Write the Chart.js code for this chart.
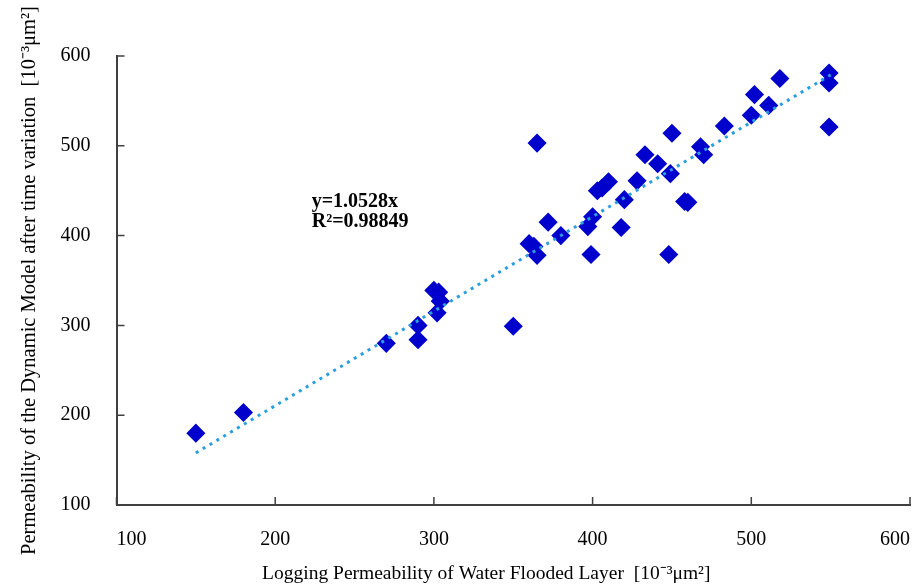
<!DOCTYPE html>
<html>
<head>
<meta charset="utf-8">
<script src="https://cdn.jsdelivr.net/npm/chart.js@4.4.1/dist/chart.umd.min.js"></script>
<style>
    body { margin: 0; background: #ffffff; }
    canvas { display: block; }
</style>
</head>
<body>
<canvas id="permChart" width="921" height="586"></canvas>
<script>
// measured points (logging permeability, model permeability)
const loggingPerm = [150, 180, 270, 290, 290, 300, 303, 304, 302, 350,
    360, 363, 365, 365, 372, 380, 397, 400, 399, 403,
    406, 410, 418, 420, 428, 433, 441, 448, 449, 450,
    458, 460, 468, 470, 483, 500, 502, 511, 518, 549,
    549, 549];
const modelPerm = [180, 203, 280, 300, 284, 339, 337, 327, 314, 299,
    391, 388, 378, 503, 415, 400, 410, 421, 379, 450,
    453, 460, 409, 440, 461, 490, 480, 379, 469, 514,
    438, 437, 499, 490, 522, 534, 557, 545, 575, 581,
    570, 521];

// trend line ends
const trendX = [150, 550];
const trendY = [158, 579];

const xTicks = [100, 200, 300, 400, 500, 600];
const yTicks = [100, 200, 300, 400, 500, 600];

const fitLines = ['y=1.0528x', 'R\u00B2=0.98849'];
const xTitle = 'Logging Permeability of Water Flooded Layer  [10\u207B\u00B3\u03BCm\u00B2]';
const yTitle = 'Permeability of the Dynamic Model after time variation  [10\u207B\u00B3\u03BCm\u00B2]';

const serif = '"Liberation Serif", "Times New Roman", serif';
const axisColor = '#404040';

const points = loggingPerm.map((x, i) => ({x: x, y: modelPerm[i]}));
const trend = trendX.map((x, i) => ({x: x, y: trendY[i]}));

// tick marks pointing into the plot, plus fit text and x title
const extras = {
    id: 'extras',
    beforeDatasetsDraw(chart) {
        const ctx = chart.ctx;
        const xs = chart.scales.x;
        const ys = chart.scales.y;
        const area = chart.chartArea;
        ctx.save();
        ctx.strokeStyle = axisColor;
        ctx.lineWidth = 1.5;
        ctx.beginPath();
        xTicks.forEach(v => {
            const px = xs.getPixelForValue(v);
            ctx.moveTo(px, area.bottom);
            ctx.lineTo(px, area.bottom - 8);
        });
        yTicks.forEach(v => {
            const py = ys.getPixelForValue(v);
            ctx.moveTo(area.left, py);
            ctx.lineTo(area.left + 8, py);
        });
        ctx.stroke();
        ctx.restore();
    },
    afterDraw(chart) {
        const ctx = chart.ctx;
        const xs = chart.scales.x;
        const ys = chart.scales.y;
        ctx.save();
        ctx.fillStyle = '#000000';
        ctx.textAlign = 'left';
        ctx.textBaseline = 'alphabetic';
        ctx.font = 'bold 20px ' + serif;
        ctx.fillText(fitLines[0], xs.getPixelForValue(223), ys.getPixelForValue(432));
        ctx.fillText(fitLines[1], xs.getPixelForValue(223), ys.getPixelForValue(410));

        ctx.font = '19.5px ' + serif;
        ctx.textAlign = 'center';
        ctx.textBaseline = 'middle';
        ctx.fillText(xTitle, xs.getPixelForValue(333), xs.bottom - 12);
        ctx.restore();
    }
};

const chart = new Chart(document.getElementById('permChart').getContext('2d'), {
    type: 'scatter',
    data: {
        datasets: [{
            type: 'line',
            data: trend,
            borderColor: '#2a9fe0',
            borderWidth: 3,
            borderDash: [3, 5],
            pointRadius: 0,
            fill: false
        }, {
            data: points,
            pointStyle: 'rectRot',
            pointRadius: 8.5,
            pointBorderWidth: 1.5,
            pointBackgroundColor: '#0000cd',
            pointBorderColor: '#0000cd'
        }]
    },
    plugins: [extras],
    options: {
        responsive: false,
        animation: false,
        layout: {
            padding: {left: 0, right: 11, top: 56, bottom: 0}
        },
        plugins: {
            legend: {display: false},
            tooltip: {enabled: false}
        },
        scales: {
            x: {
                type: 'linear',
                min: 100,
                max: 600,
                afterBuildTicks: scale => { scale.ticks = xTicks.map(v => ({value: v})); },
                ticks: {
                    padding: 23,
                    align: 'inner',
                    color: '#000000',
                    font: {family: serif, size: 20}
                },
                grid: {display: false, drawTicks: false},
                border: {color: axisColor, width: 2},
                afterFit: scale => {
                    scale.height = 81;
                    scale.paddingLeft = 0;
                    scale.paddingRight = 0;
                }
            },
            y: {
                type: 'linear',
                min: 100,
                max: 600,
                afterBuildTicks: scale => { scale.ticks = yTicks.map(v => ({value: v})); },
                ticks: {
                    padding: 26,
                    color: '#000000',
                    font: {family: serif, size: 20}
                },
                grid: {display: false, drawTicks: false},
                border: {color: axisColor, width: 2},
                title: {
                    display: true,
                    text: yTitle,
                    color: '#000000',
                    font: {family: serif, size: 20.5},
                    padding: {top: 17, bottom: 0}
                },
                afterFit: scale => {
                    scale.width = 116.5;
                    scale.paddingTop = 0;
                    scale.paddingBottom = 0;
                }
            }
        }
    }
});
</script>
</body>
</html>
